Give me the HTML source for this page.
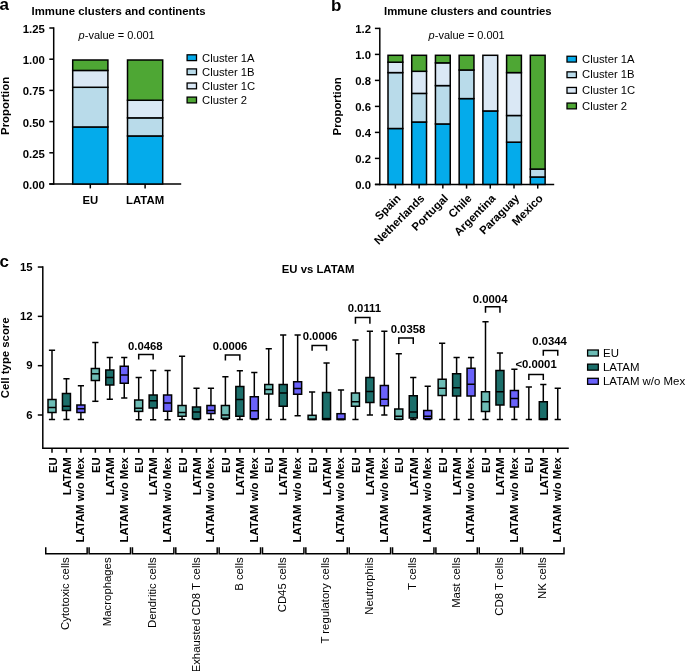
<!DOCTYPE html>
<html><head><meta charset="utf-8"><style>
html,body{margin:0;padding:0;background:#fff;}
svg{display:block;-webkit-font-smoothing:antialiased;will-change:transform;}
text{font-family:"Liberation Sans",sans-serif;fill:#000;}
line,path{stroke:#000;stroke-linecap:butt;}
</style></head><body>
<svg width="685" height="671" viewBox="0 0 685 671">
<text x="-0.6" y="9.5" font-size="17" font-weight="bold" text-anchor="start" >a</text>
<text x="31.6" y="14.8" font-size="11.35" font-weight="bold" text-anchor="start" >Immune clusters and continents</text>
<line x1="53.7" y1="27.3" x2="53.7" y2="184.75" stroke-width="1.5"/>
<line x1="49.3" y1="184.0" x2="53.7" y2="184.0" stroke-width="1.5"/>
<text x="44.8" y="189.0" font-size="11.35" font-weight="bold" text-anchor="end" >0.00</text>
<line x1="49.3" y1="152.8" x2="53.7" y2="152.8" stroke-width="1.5"/>
<text x="44.8" y="157.8" font-size="11.35" font-weight="bold" text-anchor="end" >0.25</text>
<line x1="49.3" y1="121.6" x2="53.7" y2="121.6" stroke-width="1.5"/>
<text x="44.8" y="126.6" font-size="11.35" font-weight="bold" text-anchor="end" >0.50</text>
<line x1="49.3" y1="90.4" x2="53.7" y2="90.4" stroke-width="1.5"/>
<text x="44.8" y="95.4" font-size="11.35" font-weight="bold" text-anchor="end" >0.75</text>
<line x1="49.3" y1="59.2" x2="53.7" y2="59.2" stroke-width="1.5"/>
<text x="44.8" y="64.2" font-size="11.35" font-weight="bold" text-anchor="end" >1.00</text>
<line x1="49.3" y1="28.0" x2="53.7" y2="28.0" stroke-width="1.5"/>
<text x="44.8" y="33.0" font-size="11.35" font-weight="bold" text-anchor="end" >1.25</text>
<line x1="49.3" y1="184.0" x2="181.2" y2="184.0" stroke-width="1.5"/>
<text x="9.0" y="105.9" font-size="11.35" font-weight="bold" text-anchor="middle" transform="rotate(-90 9.0 105.9)">Proportion</text>
<text x="78.6" y="38.6" font-size="11"><tspan font-style="italic">p</tspan>-value = 0.001</text>
<rect x="72.69999999999999" y="126.9664" width="35.2" height="57.03360000000001" fill="#04abeb" stroke="#000" stroke-width="1.5"/>
<rect x="72.69999999999999" y="87.28" width="35.2" height="39.68639999999999" fill="#b9dbea" stroke="#000" stroke-width="1.5"/>
<rect x="72.69999999999999" y="70.432" width="35.2" height="16.848" fill="#dae8f5" stroke="#000" stroke-width="1.5"/>
<rect x="72.69999999999999" y="60.0" width="35.2" height="10.432000000000002" fill="#4ea734" stroke="#000" stroke-width="1.5"/>
<line x1="90.3" y1="184.0" x2="90.3" y2="188.4" stroke-width="1.5"/>
<rect x="127.5" y="135.952" width="35.2" height="48.048" fill="#04abeb" stroke="#000" stroke-width="1.5"/>
<rect x="127.5" y="117.856" width="35.2" height="18.096000000000004" fill="#b9dbea" stroke="#000" stroke-width="1.5"/>
<rect x="127.5" y="100.25919999999999" width="35.2" height="17.5968" fill="#dae8f5" stroke="#000" stroke-width="1.5"/>
<rect x="127.5" y="60.0" width="35.2" height="40.25919999999999" fill="#4ea734" stroke="#000" stroke-width="1.5"/>
<line x1="145.1" y1="184.0" x2="145.1" y2="188.4" stroke-width="1.5"/>
<text x="90.3" y="203.6" font-size="11.35" font-weight="bold" text-anchor="middle" >EU</text>
<text x="145.1" y="203.6" font-size="11.35" font-weight="bold" text-anchor="middle" >LATAM</text>
<rect x="187.1" y="54.800000000000004" width="9.4" height="5.8" fill="#04abeb" stroke="#000" stroke-width="1.3"/>
<text x="202.1" y="61.5" font-size="11.25" text-anchor="start" >Cluster 1A</text>
<rect x="187.1" y="68.89999999999999" width="9.4" height="5.8" fill="#b9dbea" stroke="#000" stroke-width="1.3"/>
<text x="202.1" y="75.6" font-size="11.25" text-anchor="start" >Cluster 1B</text>
<rect x="187.1" y="83.0" width="9.4" height="5.8" fill="#dae8f5" stroke="#000" stroke-width="1.3"/>
<text x="202.1" y="89.7" font-size="11.25" text-anchor="start" >Cluster 1C</text>
<rect x="187.1" y="97.1" width="9.4" height="5.8" fill="#4ea734" stroke="#000" stroke-width="1.3"/>
<text x="202.1" y="103.8" font-size="11.25" text-anchor="start" >Cluster 2</text>
<text x="331.0" y="11.2" font-size="17" font-weight="bold" text-anchor="start" >b</text>
<text x="384.0" y="14.8" font-size="11.35" font-weight="bold" text-anchor="start" >Immune clusters and countries</text>
<line x1="379.8" y1="27.7" x2="379.8" y2="185.15" stroke-width="1.5"/>
<line x1="374.9" y1="184.4" x2="379.8" y2="184.4" stroke-width="1.5"/>
<text x="371.0" y="188.6" font-size="11.35" font-weight="bold" text-anchor="end" >0.0</text>
<line x1="374.9" y1="158.4" x2="379.8" y2="158.4" stroke-width="1.5"/>
<text x="371.0" y="162.6" font-size="11.35" font-weight="bold" text-anchor="end" >0.2</text>
<line x1="374.9" y1="132.4" x2="379.8" y2="132.4" stroke-width="1.5"/>
<text x="371.0" y="136.6" font-size="11.35" font-weight="bold" text-anchor="end" >0.4</text>
<line x1="374.9" y1="106.39999999999999" x2="379.8" y2="106.39999999999999" stroke-width="1.5"/>
<text x="371.0" y="110.6" font-size="11.35" font-weight="bold" text-anchor="end" >0.6</text>
<line x1="374.9" y1="80.4" x2="379.8" y2="80.4" stroke-width="1.5"/>
<text x="371.0" y="84.60000000000001" font-size="11.35" font-weight="bold" text-anchor="end" >0.8</text>
<line x1="374.9" y1="54.400000000000006" x2="379.8" y2="54.400000000000006" stroke-width="1.5"/>
<text x="371.0" y="58.60000000000001" font-size="11.35" font-weight="bold" text-anchor="end" >1.0</text>
<line x1="374.9" y1="28.399999999999977" x2="379.8" y2="28.399999999999977" stroke-width="1.5"/>
<text x="371.0" y="32.59999999999998" font-size="11.35" font-weight="bold" text-anchor="end" >1.2</text>
<line x1="374.9" y1="184.4" x2="554.2" y2="184.4" stroke-width="1.5"/>
<text x="341.3" y="106.4" font-size="11.35" font-weight="bold" text-anchor="middle" transform="rotate(-90 341.3 106.4)">Proportion</text>
<text x="428.6" y="38.6" font-size="11"><tspan font-style="italic">p</tspan>-value = 0.001</text>
<rect x="388.0" y="128.5" width="14.8" height="55.900000000000006" fill="#04abeb" stroke="#000" stroke-width="1.5"/>
<rect x="388.0" y="72.60000000000001" width="14.8" height="55.89999999999999" fill="#b9dbea" stroke="#000" stroke-width="1.5"/>
<rect x="388.0" y="62.20000000000002" width="14.8" height="10.399999999999991" fill="#dae8f5" stroke="#000" stroke-width="1.5"/>
<rect x="388.0" y="55.300000000000004" width="14.8" height="6.900000000000013" fill="#4ea734" stroke="#000" stroke-width="1.5"/>
<line x1="395.4" y1="184.4" x2="395.4" y2="188.6" stroke-width="1.5"/>
<text x="401.4" y="199.0" font-size="11.35" font-weight="bold" text-anchor="end" transform="rotate(-45 401.4 199.0)">Spain</text>
<rect x="411.72" y="122.0" width="14.8" height="62.400000000000006" fill="#04abeb" stroke="#000" stroke-width="1.5"/>
<rect x="411.72" y="93.4" width="14.8" height="28.599999999999994" fill="#b9dbea" stroke="#000" stroke-width="1.5"/>
<rect x="411.72" y="71.30000000000001" width="14.8" height="22.099999999999994" fill="#dae8f5" stroke="#000" stroke-width="1.5"/>
<rect x="411.72" y="55.300000000000004" width="14.8" height="16.000000000000007" fill="#4ea734" stroke="#000" stroke-width="1.5"/>
<line x1="419.12" y1="184.4" x2="419.12" y2="188.6" stroke-width="1.5"/>
<text x="425.12" y="199.0" font-size="11.35" font-weight="bold" text-anchor="end" transform="rotate(-45 425.12 199.0)">Netherlands</text>
<rect x="435.44" y="123.95" width="14.8" height="60.45" fill="#04abeb" stroke="#000" stroke-width="1.5"/>
<rect x="435.44" y="85.60000000000001" width="14.8" height="38.349999999999994" fill="#b9dbea" stroke="#000" stroke-width="1.5"/>
<rect x="435.44" y="62.849999999999994" width="14.8" height="22.750000000000014" fill="#dae8f5" stroke="#000" stroke-width="1.5"/>
<rect x="435.44" y="55.300000000000004" width="14.8" height="7.54999999999999" fill="#4ea734" stroke="#000" stroke-width="1.5"/>
<line x1="442.84" y1="184.4" x2="442.84" y2="188.6" stroke-width="1.5"/>
<text x="448.84" y="199.0" font-size="11.35" font-weight="bold" text-anchor="end" transform="rotate(-45 448.84 199.0)">Portugal</text>
<rect x="459.15999999999997" y="98.60000000000001" width="14.8" height="85.8" fill="#04abeb" stroke="#000" stroke-width="1.5"/>
<rect x="459.15999999999997" y="70.0" width="14.8" height="28.60000000000001" fill="#b9dbea" stroke="#000" stroke-width="1.5"/>
<rect x="459.15999999999997" y="55.300000000000004" width="14.8" height="14.699999999999996" fill="#4ea734" stroke="#000" stroke-width="1.5"/>
<line x1="466.55999999999995" y1="184.4" x2="466.55999999999995" y2="188.6" stroke-width="1.5"/>
<text x="472.55999999999995" y="199.0" font-size="11.35" font-weight="bold" text-anchor="end" transform="rotate(-45 472.55999999999995 199.0)">Chile</text>
<rect x="482.88" y="110.95000000000002" width="14.8" height="73.44999999999999" fill="#04abeb" stroke="#000" stroke-width="1.5"/>
<rect x="482.88" y="55.300000000000004" width="14.8" height="55.65000000000001" fill="#dae8f5" stroke="#000" stroke-width="1.5"/>
<line x1="490.28" y1="184.4" x2="490.28" y2="188.6" stroke-width="1.5"/>
<text x="496.28" y="199.0" font-size="11.35" font-weight="bold" text-anchor="end" transform="rotate(-45 496.28 199.0)">Argentina</text>
<rect x="506.6" y="142.15" width="14.8" height="42.25" fill="#04abeb" stroke="#000" stroke-width="1.5"/>
<rect x="506.6" y="115.5" width="14.8" height="26.650000000000006" fill="#b9dbea" stroke="#000" stroke-width="1.5"/>
<rect x="506.6" y="72.60000000000001" width="14.8" height="42.89999999999999" fill="#dae8f5" stroke="#000" stroke-width="1.5"/>
<rect x="506.6" y="55.300000000000004" width="14.8" height="17.300000000000004" fill="#4ea734" stroke="#000" stroke-width="1.5"/>
<line x1="514.0" y1="184.4" x2="514.0" y2="188.6" stroke-width="1.5"/>
<text x="520.0" y="199.0" font-size="11.35" font-weight="bold" text-anchor="end" transform="rotate(-45 520.0 199.0)">Paraguay</text>
<rect x="530.32" y="176.99" width="14.8" height="7.409999999999997" fill="#04abeb" stroke="#000" stroke-width="1.5"/>
<rect x="530.32" y="169.06" width="14.8" height="7.930000000000007" fill="#b9dbea" stroke="#000" stroke-width="1.5"/>
<rect x="530.32" y="55.300000000000004" width="14.8" height="113.75999999999999" fill="#4ea734" stroke="#000" stroke-width="1.5"/>
<line x1="537.72" y1="184.4" x2="537.72" y2="188.6" stroke-width="1.5"/>
<text x="543.72" y="199.0" font-size="11.35" font-weight="bold" text-anchor="end" transform="rotate(-45 543.72 199.0)">Mexico</text>
<rect x="567.0" y="56.25" width="9.4" height="5.8" fill="#04abeb" stroke="#000" stroke-width="1.3"/>
<text x="582.1" y="62.75" font-size="11.25" text-anchor="start" >Cluster 1A</text>
<rect x="567.0" y="71.85" width="9.4" height="5.8" fill="#b9dbea" stroke="#000" stroke-width="1.3"/>
<text x="582.1" y="78.35" font-size="11.25" text-anchor="start" >Cluster 1B</text>
<rect x="567.0" y="87.44999999999999" width="9.4" height="5.8" fill="#dae8f5" stroke="#000" stroke-width="1.3"/>
<text x="582.1" y="93.94999999999999" font-size="11.25" text-anchor="start" >Cluster 1C</text>
<rect x="567.0" y="103.04999999999998" width="9.4" height="5.8" fill="#4ea734" stroke="#000" stroke-width="1.3"/>
<text x="582.1" y="109.54999999999998" font-size="11.25" text-anchor="start" >Cluster 2</text>
<text x="-0.5" y="266.8" font-size="17" font-weight="bold" text-anchor="start" >c</text>
<text x="318.1" y="273.3" font-size="11.35" font-weight="bold" text-anchor="middle" >EU vs LATAM</text>
<line x1="42.8" y1="266.28999999999996" x2="42.8" y2="448.95" stroke-width="1.5"/>
<line x1="37.8" y1="415.0" x2="42.8" y2="415.0" stroke-width="1.5"/>
<text x="32.5" y="418.75" font-size="11.35" font-weight="bold" text-anchor="end" >6</text>
<line x1="37.8" y1="365.68" x2="42.8" y2="365.68" stroke-width="1.5"/>
<text x="32.5" y="369.43" font-size="11.35" font-weight="bold" text-anchor="end" >9</text>
<line x1="37.8" y1="316.36" x2="42.8" y2="316.36" stroke-width="1.5"/>
<text x="32.5" y="320.11" font-size="11.35" font-weight="bold" text-anchor="end" >12</text>
<line x1="37.8" y1="267.03999999999996" x2="42.8" y2="267.03999999999996" stroke-width="1.5"/>
<text x="32.5" y="270.78999999999996" font-size="11.35" font-weight="bold" text-anchor="end" >15</text>
<line x1="42.8" y1="448.2" x2="568.8" y2="448.2" stroke-width="1.5"/>
<text x="8.8" y="357.8" font-size="11.35" font-weight="bold" text-anchor="middle" transform="rotate(-90 8.8 357.8)">Cell type score</text>
<line x1="52.0" y1="350.25" x2="52.0" y2="419.5" stroke-width="1.5"/>
<line x1="48.9" y1="350.25" x2="55.1" y2="350.25" stroke-width="1.5"/>
<line x1="48.9" y1="419.5" x2="55.1" y2="419.5" stroke-width="1.5"/>
<rect x="48.0" y="399.5" width="8.0" height="13.0" fill="#6cbcb5" stroke="#000" stroke-width="1.5"/>
<line x1="48.0" y1="407.5" x2="56.0" y2="407.5" stroke-width="1.5"/>
<line x1="52.0" y1="448.2" x2="52.0" y2="452.8" stroke-width="1.5"/>
<text x="56.6" y="457.2" font-size="11.35" font-weight="bold" text-anchor="end" transform="rotate(-90 56.6 457.2)">EU</text>
<line x1="66.45" y1="378.75" x2="66.45" y2="419.5" stroke-width="1.5"/>
<line x1="63.35" y1="378.75" x2="69.55" y2="378.75" stroke-width="1.5"/>
<line x1="63.35" y1="419.5" x2="69.55" y2="419.5" stroke-width="1.5"/>
<rect x="62.45" y="393.5" width="8.0" height="17.0" fill="#1b6e6a" stroke="#000" stroke-width="1.5"/>
<line x1="62.45" y1="406.25" x2="70.45" y2="406.25" stroke-width="1.5"/>
<line x1="66.45" y1="448.2" x2="66.45" y2="452.8" stroke-width="1.5"/>
<text x="70.75" y="457.2" font-size="11.35" font-weight="bold" text-anchor="end" transform="rotate(-90 70.75 457.2)">LATAM</text>
<line x1="80.9" y1="385.75" x2="80.9" y2="419.5" stroke-width="1.5"/>
<line x1="77.80000000000001" y1="385.75" x2="84.0" y2="385.75" stroke-width="1.5"/>
<line x1="77.80000000000001" y1="419.5" x2="84.0" y2="419.5" stroke-width="1.5"/>
<rect x="76.9" y="405" width="8.0" height="7.5" fill="#6a62fa" stroke="#000" stroke-width="1.5"/>
<line x1="76.9" y1="408.75" x2="84.9" y2="408.75" stroke-width="1.5"/>
<line x1="80.9" y1="448.2" x2="80.9" y2="452.8" stroke-width="1.5"/>
<text x="84.30000000000001" y="457.2" font-size="11.35" font-weight="bold" text-anchor="end" transform="rotate(-90 84.30000000000001 457.2)">LATAM w/o Mex</text>
<path d="M45.75 547.2 V553.8 H87.15 V547.2" fill="none" stroke-width="1.5"/>
<text x="69.2" y="557.4" font-size="11.35" text-anchor="end" transform="rotate(-90 69.2 557.4)">Cytotoxic cells</text>
<line x1="95.35" y1="342.5" x2="95.35" y2="401.3" stroke-width="1.5"/>
<line x1="92.25" y1="342.5" x2="98.44999999999999" y2="342.5" stroke-width="1.5"/>
<line x1="92.25" y1="401.3" x2="98.44999999999999" y2="401.3" stroke-width="1.5"/>
<rect x="91.35" y="368.5" width="8.0" height="12.0" fill="#6cbcb5" stroke="#000" stroke-width="1.5"/>
<line x1="91.35" y1="373.8" x2="99.35" y2="373.8" stroke-width="1.5"/>
<line x1="95.35" y1="448.2" x2="95.35" y2="452.8" stroke-width="1.5"/>
<text x="99.94999999999999" y="457.2" font-size="11.35" font-weight="bold" text-anchor="end" transform="rotate(-90 99.94999999999999 457.2)">EU</text>
<line x1="109.8" y1="357.5" x2="109.8" y2="399.25" stroke-width="1.5"/>
<line x1="106.7" y1="357.5" x2="112.89999999999999" y2="357.5" stroke-width="1.5"/>
<line x1="106.7" y1="399.25" x2="112.89999999999999" y2="399.25" stroke-width="1.5"/>
<rect x="105.8" y="370" width="8.0" height="15" fill="#1b6e6a" stroke="#000" stroke-width="1.5"/>
<line x1="105.8" y1="377.5" x2="113.8" y2="377.5" stroke-width="1.5"/>
<line x1="109.8" y1="448.2" x2="109.8" y2="452.8" stroke-width="1.5"/>
<text x="114.1" y="457.2" font-size="11.35" font-weight="bold" text-anchor="end" transform="rotate(-90 114.1 457.2)">LATAM</text>
<line x1="124.25" y1="357.5" x2="124.25" y2="398" stroke-width="1.5"/>
<line x1="121.15" y1="357.5" x2="127.35" y2="357.5" stroke-width="1.5"/>
<line x1="121.15" y1="398" x2="127.35" y2="398" stroke-width="1.5"/>
<rect x="120.25" y="366.25" width="8.0" height="17.0" fill="#6a62fa" stroke="#000" stroke-width="1.5"/>
<line x1="120.25" y1="375" x2="128.25" y2="375" stroke-width="1.5"/>
<line x1="124.25" y1="448.2" x2="124.25" y2="452.8" stroke-width="1.5"/>
<text x="127.65" y="457.2" font-size="11.35" font-weight="bold" text-anchor="end" transform="rotate(-90 127.65 457.2)">LATAM w/o Mex</text>
<path d="M89.1 547.2 V553.8 H130.5 V547.2" fill="none" stroke-width="1.5"/>
<text x="110.55" y="557.4" font-size="11.35" text-anchor="end" transform="rotate(-90 110.55 557.4)">Macrophages</text>
<line x1="138.7" y1="377.5" x2="138.7" y2="419.75" stroke-width="1.5"/>
<line x1="135.6" y1="377.5" x2="141.79999999999998" y2="377.5" stroke-width="1.5"/>
<line x1="135.6" y1="419.75" x2="141.79999999999998" y2="419.75" stroke-width="1.5"/>
<rect x="134.7" y="400" width="8.0" height="11.399999999999977" fill="#6cbcb5" stroke="#000" stroke-width="1.5"/>
<line x1="134.7" y1="408.2" x2="142.7" y2="408.2" stroke-width="1.5"/>
<line x1="138.7" y1="448.2" x2="138.7" y2="452.8" stroke-width="1.5"/>
<text x="143.29999999999998" y="457.2" font-size="11.35" font-weight="bold" text-anchor="end" transform="rotate(-90 143.29999999999998 457.2)">EU</text>
<line x1="153.14999999999998" y1="370.5" x2="153.14999999999998" y2="419.75" stroke-width="1.5"/>
<line x1="150.04999999999998" y1="370.5" x2="156.24999999999997" y2="370.5" stroke-width="1.5"/>
<line x1="150.04999999999998" y1="419.75" x2="156.24999999999997" y2="419.75" stroke-width="1.5"/>
<rect x="149.14999999999998" y="395" width="8.0" height="13" fill="#1b6e6a" stroke="#000" stroke-width="1.5"/>
<line x1="149.14999999999998" y1="400.75" x2="157.14999999999998" y2="400.75" stroke-width="1.5"/>
<line x1="153.14999999999998" y1="448.2" x2="153.14999999999998" y2="452.8" stroke-width="1.5"/>
<text x="157.45" y="457.2" font-size="11.35" font-weight="bold" text-anchor="end" transform="rotate(-90 157.45 457.2)">LATAM</text>
<line x1="167.6" y1="370.5" x2="167.6" y2="419.75" stroke-width="1.5"/>
<line x1="164.5" y1="370.5" x2="170.7" y2="370.5" stroke-width="1.5"/>
<line x1="164.5" y1="419.75" x2="170.7" y2="419.75" stroke-width="1.5"/>
<rect x="163.6" y="395" width="8.0" height="16.25" fill="#6a62fa" stroke="#000" stroke-width="1.5"/>
<line x1="163.6" y1="403" x2="171.6" y2="403" stroke-width="1.5"/>
<line x1="167.6" y1="448.2" x2="167.6" y2="452.8" stroke-width="1.5"/>
<text x="171.0" y="457.2" font-size="11.35" font-weight="bold" text-anchor="end" transform="rotate(-90 171.0 457.2)">LATAM w/o Mex</text>
<path d="M132.45 547.2 V553.8 H173.85 V547.2" fill="none" stroke-width="1.5"/>
<text x="156.14999999999998" y="557.4" font-size="11.35" text-anchor="end" transform="rotate(-90 156.14999999999998 557.4)">Dendritic cells</text>
<line x1="182.04999999999998" y1="356.25" x2="182.04999999999998" y2="419.5" stroke-width="1.5"/>
<line x1="178.95" y1="356.25" x2="185.14999999999998" y2="356.25" stroke-width="1.5"/>
<line x1="178.95" y1="419.5" x2="185.14999999999998" y2="419.5" stroke-width="1.5"/>
<rect x="178.04999999999998" y="405.5" width="8.0" height="10.75" fill="#6cbcb5" stroke="#000" stroke-width="1.5"/>
<line x1="178.04999999999998" y1="412.5" x2="186.04999999999998" y2="412.5" stroke-width="1.5"/>
<line x1="182.04999999999998" y1="448.2" x2="182.04999999999998" y2="452.8" stroke-width="1.5"/>
<text x="186.64999999999998" y="457.2" font-size="11.35" font-weight="bold" text-anchor="end" transform="rotate(-90 186.64999999999998 457.2)">EU</text>
<line x1="196.5" y1="388.25" x2="196.5" y2="419.5" stroke-width="1.5"/>
<line x1="193.4" y1="388.25" x2="199.6" y2="388.25" stroke-width="1.5"/>
<line x1="193.4" y1="419.5" x2="199.6" y2="419.5" stroke-width="1.5"/>
<rect x="192.5" y="407" width="8.0" height="11.75" fill="#1b6e6a" stroke="#000" stroke-width="1.5"/>
<line x1="192.5" y1="412" x2="200.5" y2="412" stroke-width="1.5"/>
<line x1="196.5" y1="448.2" x2="196.5" y2="452.8" stroke-width="1.5"/>
<text x="200.8" y="457.2" font-size="11.35" font-weight="bold" text-anchor="end" transform="rotate(-90 200.8 457.2)">LATAM</text>
<line x1="210.95" y1="388.25" x2="210.95" y2="419.5" stroke-width="1.5"/>
<line x1="207.85" y1="388.25" x2="214.04999999999998" y2="388.25" stroke-width="1.5"/>
<line x1="207.85" y1="419.5" x2="214.04999999999998" y2="419.5" stroke-width="1.5"/>
<rect x="206.95" y="405.5" width="8.0" height="8.0" fill="#6a62fa" stroke="#000" stroke-width="1.5"/>
<line x1="206.95" y1="410.5" x2="214.95" y2="410.5" stroke-width="1.5"/>
<line x1="210.95" y1="448.2" x2="210.95" y2="452.8" stroke-width="1.5"/>
<text x="214.35" y="457.2" font-size="11.35" font-weight="bold" text-anchor="end" transform="rotate(-90 214.35 457.2)">LATAM w/o Mex</text>
<path d="M175.79999999999998 547.2 V553.8 H217.2 V547.2" fill="none" stroke-width="1.5"/>
<text x="200.3" y="557.4" font-size="11.35" text-anchor="end" transform="rotate(-90 200.3 557.4)">Exhausted CD8 T cells</text>
<line x1="225.39999999999998" y1="376.75" x2="225.39999999999998" y2="419.5" stroke-width="1.5"/>
<line x1="222.29999999999998" y1="376.75" x2="228.49999999999997" y2="376.75" stroke-width="1.5"/>
<line x1="222.29999999999998" y1="419.5" x2="228.49999999999997" y2="419.5" stroke-width="1.5"/>
<rect x="221.39999999999998" y="405.5" width="8.0" height="12.75" fill="#6cbcb5" stroke="#000" stroke-width="1.5"/>
<line x1="221.39999999999998" y1="415.0" x2="229.39999999999998" y2="415.0" stroke-width="1.5"/>
<line x1="225.39999999999998" y1="448.2" x2="225.39999999999998" y2="452.8" stroke-width="1.5"/>
<text x="229.99999999999997" y="457.2" font-size="11.35" font-weight="bold" text-anchor="end" transform="rotate(-90 229.99999999999997 457.2)">EU</text>
<line x1="239.85" y1="370.75" x2="239.85" y2="419.5" stroke-width="1.5"/>
<line x1="236.75" y1="370.75" x2="242.95" y2="370.75" stroke-width="1.5"/>
<line x1="236.75" y1="419.5" x2="242.95" y2="419.5" stroke-width="1.5"/>
<rect x="235.85" y="386.5" width="8.0" height="29.75" fill="#1b6e6a" stroke="#000" stroke-width="1.5"/>
<line x1="235.85" y1="399.5" x2="243.85" y2="399.5" stroke-width="1.5"/>
<line x1="239.85" y1="448.2" x2="239.85" y2="452.8" stroke-width="1.5"/>
<text x="244.15" y="457.2" font-size="11.35" font-weight="bold" text-anchor="end" transform="rotate(-90 244.15 457.2)">LATAM</text>
<line x1="254.29999999999998" y1="372.5" x2="254.29999999999998" y2="419.5" stroke-width="1.5"/>
<line x1="251.2" y1="372.5" x2="257.4" y2="372.5" stroke-width="1.5"/>
<line x1="251.2" y1="419.5" x2="257.4" y2="419.5" stroke-width="1.5"/>
<rect x="250.29999999999998" y="396.75" width="8.0" height="22.0" fill="#6a62fa" stroke="#000" stroke-width="1.5"/>
<line x1="250.29999999999998" y1="410.75" x2="258.29999999999995" y2="410.75" stroke-width="1.5"/>
<line x1="254.29999999999998" y1="448.2" x2="254.29999999999998" y2="452.8" stroke-width="1.5"/>
<text x="257.7" y="457.2" font-size="11.35" font-weight="bold" text-anchor="end" transform="rotate(-90 257.7 457.2)">LATAM w/o Mex</text>
<path d="M219.14999999999998 547.2 V553.8 H260.54999999999995 V547.2" fill="none" stroke-width="1.5"/>
<text x="242.85" y="557.4" font-size="11.35" text-anchor="end" transform="rotate(-90 242.85 557.4)">B cells</text>
<line x1="268.75" y1="348.75" x2="268.75" y2="419.5" stroke-width="1.5"/>
<line x1="265.65" y1="348.75" x2="271.85" y2="348.75" stroke-width="1.5"/>
<line x1="265.65" y1="419.5" x2="271.85" y2="419.5" stroke-width="1.5"/>
<rect x="264.75" y="384.5" width="8.0" height="9.5" fill="#6cbcb5" stroke="#000" stroke-width="1.5"/>
<line x1="264.75" y1="389.5" x2="272.75" y2="389.5" stroke-width="1.5"/>
<line x1="268.75" y1="448.2" x2="268.75" y2="452.8" stroke-width="1.5"/>
<text x="273.35" y="457.2" font-size="11.35" font-weight="bold" text-anchor="end" transform="rotate(-90 273.35 457.2)">EU</text>
<line x1="283.2" y1="335" x2="283.2" y2="419.5" stroke-width="1.5"/>
<line x1="280.09999999999997" y1="335" x2="286.3" y2="335" stroke-width="1.5"/>
<line x1="280.09999999999997" y1="419.5" x2="286.3" y2="419.5" stroke-width="1.5"/>
<rect x="279.2" y="384.5" width="8.0" height="21.75" fill="#1b6e6a" stroke="#000" stroke-width="1.5"/>
<line x1="279.2" y1="393" x2="287.2" y2="393" stroke-width="1.5"/>
<line x1="283.2" y1="448.2" x2="283.2" y2="452.8" stroke-width="1.5"/>
<text x="287.5" y="457.2" font-size="11.35" font-weight="bold" text-anchor="end" transform="rotate(-90 287.5 457.2)">LATAM</text>
<line x1="297.65" y1="335" x2="297.65" y2="415.75" stroke-width="1.5"/>
<line x1="294.54999999999995" y1="335" x2="300.75" y2="335" stroke-width="1.5"/>
<line x1="294.54999999999995" y1="415.75" x2="300.75" y2="415.75" stroke-width="1.5"/>
<rect x="293.65" y="381.75" width="8.0" height="12.5" fill="#6a62fa" stroke="#000" stroke-width="1.5"/>
<line x1="293.65" y1="388.5" x2="301.65" y2="388.5" stroke-width="1.5"/>
<line x1="297.65" y1="448.2" x2="297.65" y2="452.8" stroke-width="1.5"/>
<text x="301.04999999999995" y="457.2" font-size="11.35" font-weight="bold" text-anchor="end" transform="rotate(-90 301.04999999999995 457.2)">LATAM w/o Mex</text>
<path d="M262.5 547.2 V553.8 H303.9 V547.2" fill="none" stroke-width="1.5"/>
<text x="286.2" y="557.4" font-size="11.35" text-anchor="end" transform="rotate(-90 286.2 557.4)">CD45 cells</text>
<line x1="312.09999999999997" y1="392" x2="312.09999999999997" y2="419.5" stroke-width="1.5"/>
<line x1="308.99999999999994" y1="392" x2="315.2" y2="392" stroke-width="1.5"/>
<line x1="308.99999999999994" y1="419.5" x2="315.2" y2="419.5" stroke-width="1.5"/>
<rect x="308.09999999999997" y="415.3" width="8.0" height="4.199999999999989" fill="#6cbcb5" stroke="#000" stroke-width="1.5"/>
<line x1="308.09999999999997" y1="419.2" x2="316.09999999999997" y2="419.2" stroke-width="1.5"/>
<line x1="312.09999999999997" y1="448.2" x2="312.09999999999997" y2="452.8" stroke-width="1.5"/>
<text x="316.7" y="457.2" font-size="11.35" font-weight="bold" text-anchor="end" transform="rotate(-90 316.7 457.2)">EU</text>
<line x1="326.55" y1="363" x2="326.55" y2="419.5" stroke-width="1.5"/>
<line x1="323.45" y1="363" x2="329.65000000000003" y2="363" stroke-width="1.5"/>
<line x1="323.45" y1="419.5" x2="329.65000000000003" y2="419.5" stroke-width="1.5"/>
<rect x="322.55" y="392.5" width="8.0" height="27.0" fill="#1b6e6a" stroke="#000" stroke-width="1.5"/>
<line x1="322.55" y1="418.6" x2="330.55" y2="418.6" stroke-width="1.5"/>
<line x1="326.55" y1="448.2" x2="326.55" y2="452.8" stroke-width="1.5"/>
<text x="330.85" y="457.2" font-size="11.35" font-weight="bold" text-anchor="end" transform="rotate(-90 330.85 457.2)">LATAM</text>
<line x1="341.0" y1="390" x2="341.0" y2="419.5" stroke-width="1.5"/>
<line x1="337.9" y1="390" x2="344.1" y2="390" stroke-width="1.5"/>
<line x1="337.9" y1="419.5" x2="344.1" y2="419.5" stroke-width="1.5"/>
<rect x="337.0" y="413.7" width="8.0" height="5.800000000000011" fill="#6a62fa" stroke="#000" stroke-width="1.5"/>
<line x1="337.0" y1="419.1" x2="345.0" y2="419.1" stroke-width="1.5"/>
<line x1="341.0" y1="448.2" x2="341.0" y2="452.8" stroke-width="1.5"/>
<text x="344.4" y="457.2" font-size="11.35" font-weight="bold" text-anchor="end" transform="rotate(-90 344.4 457.2)">LATAM w/o Mex</text>
<path d="M305.84999999999997 547.2 V553.8 H347.25 V547.2" fill="none" stroke-width="1.5"/>
<text x="329.3" y="557.4" font-size="11.35" text-anchor="end" transform="rotate(-90 329.3 557.4)">T regulatory cells</text>
<line x1="355.45" y1="340" x2="355.45" y2="419.5" stroke-width="1.5"/>
<line x1="352.34999999999997" y1="340" x2="358.55" y2="340" stroke-width="1.5"/>
<line x1="352.34999999999997" y1="419.5" x2="358.55" y2="419.5" stroke-width="1.5"/>
<rect x="351.45" y="393" width="8.0" height="13.25" fill="#6cbcb5" stroke="#000" stroke-width="1.5"/>
<line x1="351.45" y1="401.75" x2="359.45" y2="401.75" stroke-width="1.5"/>
<line x1="355.45" y1="448.2" x2="355.45" y2="452.8" stroke-width="1.5"/>
<text x="360.05" y="457.2" font-size="11.35" font-weight="bold" text-anchor="end" transform="rotate(-90 360.05 457.2)">EU</text>
<line x1="369.9" y1="331.25" x2="369.9" y2="415" stroke-width="1.5"/>
<line x1="366.79999999999995" y1="331.25" x2="373.0" y2="331.25" stroke-width="1.5"/>
<line x1="366.79999999999995" y1="415" x2="373.0" y2="415" stroke-width="1.5"/>
<rect x="365.9" y="377.5" width="8.0" height="25.0" fill="#1b6e6a" stroke="#000" stroke-width="1.5"/>
<line x1="365.9" y1="391.5" x2="373.9" y2="391.5" stroke-width="1.5"/>
<line x1="369.9" y1="448.2" x2="369.9" y2="452.8" stroke-width="1.5"/>
<text x="374.2" y="457.2" font-size="11.35" font-weight="bold" text-anchor="end" transform="rotate(-90 374.2 457.2)">LATAM</text>
<line x1="384.34999999999997" y1="331.25" x2="384.34999999999997" y2="415" stroke-width="1.5"/>
<line x1="381.24999999999994" y1="331.25" x2="387.45" y2="331.25" stroke-width="1.5"/>
<line x1="381.24999999999994" y1="415" x2="387.45" y2="415" stroke-width="1.5"/>
<rect x="380.34999999999997" y="385.5" width="8.0" height="20.25" fill="#6a62fa" stroke="#000" stroke-width="1.5"/>
<line x1="380.34999999999997" y1="399.25" x2="388.34999999999997" y2="399.25" stroke-width="1.5"/>
<line x1="384.34999999999997" y1="448.2" x2="384.34999999999997" y2="452.8" stroke-width="1.5"/>
<text x="387.74999999999994" y="457.2" font-size="11.35" font-weight="bold" text-anchor="end" transform="rotate(-90 387.74999999999994 457.2)">LATAM w/o Mex</text>
<path d="M349.2 547.2 V553.8 H390.59999999999997 V547.2" fill="none" stroke-width="1.5"/>
<text x="372.65" y="557.4" font-size="11.35" text-anchor="end" transform="rotate(-90 372.65 557.4)">Neutrophils</text>
<line x1="398.79999999999995" y1="353.75" x2="398.79999999999995" y2="419.5" stroke-width="1.5"/>
<line x1="395.69999999999993" y1="353.75" x2="401.9" y2="353.75" stroke-width="1.5"/>
<line x1="395.69999999999993" y1="419.5" x2="401.9" y2="419.5" stroke-width="1.5"/>
<rect x="394.79999999999995" y="409" width="8.0" height="10.25" fill="#6cbcb5" stroke="#000" stroke-width="1.5"/>
<line x1="394.79999999999995" y1="416.25" x2="402.79999999999995" y2="416.25" stroke-width="1.5"/>
<line x1="398.79999999999995" y1="448.2" x2="398.79999999999995" y2="452.8" stroke-width="1.5"/>
<text x="403.4" y="457.2" font-size="11.35" font-weight="bold" text-anchor="end" transform="rotate(-90 403.4 457.2)">EU</text>
<line x1="413.25" y1="377.5" x2="413.25" y2="419.5" stroke-width="1.5"/>
<line x1="410.15" y1="377.5" x2="416.35" y2="377.5" stroke-width="1.5"/>
<line x1="410.15" y1="419.5" x2="416.35" y2="419.5" stroke-width="1.5"/>
<rect x="409.25" y="395.75" width="8.0" height="22.25" fill="#1b6e6a" stroke="#000" stroke-width="1.5"/>
<line x1="409.25" y1="412" x2="417.25" y2="412" stroke-width="1.5"/>
<line x1="413.25" y1="448.2" x2="413.25" y2="452.8" stroke-width="1.5"/>
<text x="417.55" y="457.2" font-size="11.35" font-weight="bold" text-anchor="end" transform="rotate(-90 417.55 457.2)">LATAM</text>
<line x1="427.7" y1="386.25" x2="427.7" y2="419.5" stroke-width="1.5"/>
<line x1="424.59999999999997" y1="386.25" x2="430.8" y2="386.25" stroke-width="1.5"/>
<line x1="424.59999999999997" y1="419.5" x2="430.8" y2="419.5" stroke-width="1.5"/>
<rect x="423.7" y="410.5" width="8.0" height="8.25" fill="#6a62fa" stroke="#000" stroke-width="1.5"/>
<line x1="423.7" y1="416.25" x2="431.7" y2="416.25" stroke-width="1.5"/>
<line x1="427.7" y1="448.2" x2="427.7" y2="452.8" stroke-width="1.5"/>
<text x="431.09999999999997" y="457.2" font-size="11.35" font-weight="bold" text-anchor="end" transform="rotate(-90 431.09999999999997 457.2)">LATAM w/o Mex</text>
<path d="M392.54999999999995 547.2 V553.8 H433.95 V547.2" fill="none" stroke-width="1.5"/>
<text x="416.25" y="557.4" font-size="11.35" text-anchor="end" transform="rotate(-90 416.25 557.4)">T cells</text>
<line x1="442.15" y1="343.25" x2="442.15" y2="419.5" stroke-width="1.5"/>
<line x1="439.04999999999995" y1="343.25" x2="445.25" y2="343.25" stroke-width="1.5"/>
<line x1="439.04999999999995" y1="419.5" x2="445.25" y2="419.5" stroke-width="1.5"/>
<rect x="438.15" y="379.25" width="8.0" height="16.25" fill="#6cbcb5" stroke="#000" stroke-width="1.5"/>
<line x1="438.15" y1="388.25" x2="446.15" y2="388.25" stroke-width="1.5"/>
<line x1="442.15" y1="448.2" x2="442.15" y2="452.8" stroke-width="1.5"/>
<text x="446.75" y="457.2" font-size="11.35" font-weight="bold" text-anchor="end" transform="rotate(-90 446.75 457.2)">EU</text>
<line x1="456.59999999999997" y1="357.5" x2="456.59999999999997" y2="419.5" stroke-width="1.5"/>
<line x1="453.49999999999994" y1="357.5" x2="459.7" y2="357.5" stroke-width="1.5"/>
<line x1="453.49999999999994" y1="419.5" x2="459.7" y2="419.5" stroke-width="1.5"/>
<rect x="452.59999999999997" y="373.75" width="8.0" height="22.25" fill="#1b6e6a" stroke="#000" stroke-width="1.5"/>
<line x1="452.59999999999997" y1="387.75" x2="460.59999999999997" y2="387.75" stroke-width="1.5"/>
<line x1="456.59999999999997" y1="448.2" x2="456.59999999999997" y2="452.8" stroke-width="1.5"/>
<text x="460.9" y="457.2" font-size="11.35" font-weight="bold" text-anchor="end" transform="rotate(-90 460.9 457.2)">LATAM</text>
<line x1="471.04999999999995" y1="357.5" x2="471.04999999999995" y2="419.5" stroke-width="1.5"/>
<line x1="467.94999999999993" y1="357.5" x2="474.15" y2="357.5" stroke-width="1.5"/>
<line x1="467.94999999999993" y1="419.5" x2="474.15" y2="419.5" stroke-width="1.5"/>
<rect x="467.04999999999995" y="368.25" width="8.0" height="27.75" fill="#6a62fa" stroke="#000" stroke-width="1.5"/>
<line x1="467.04999999999995" y1="384.25" x2="475.04999999999995" y2="384.25" stroke-width="1.5"/>
<line x1="471.04999999999995" y1="448.2" x2="471.04999999999995" y2="452.8" stroke-width="1.5"/>
<text x="474.44999999999993" y="457.2" font-size="11.35" font-weight="bold" text-anchor="end" transform="rotate(-90 474.44999999999993 457.2)">LATAM w/o Mex</text>
<path d="M435.9 547.2 V553.8 H477.29999999999995 V547.2" fill="none" stroke-width="1.5"/>
<text x="459.59999999999997" y="557.4" font-size="11.35" text-anchor="end" transform="rotate(-90 459.59999999999997 557.4)">Mast cells</text>
<line x1="485.5" y1="321.75" x2="485.5" y2="419.5" stroke-width="1.5"/>
<line x1="482.4" y1="321.75" x2="488.6" y2="321.75" stroke-width="1.5"/>
<line x1="482.4" y1="419.5" x2="488.6" y2="419.5" stroke-width="1.5"/>
<rect x="481.5" y="391.75" width="8.0" height="19.75" fill="#6cbcb5" stroke="#000" stroke-width="1.5"/>
<line x1="481.5" y1="401.75" x2="489.5" y2="401.75" stroke-width="1.5"/>
<line x1="485.5" y1="448.2" x2="485.5" y2="452.8" stroke-width="1.5"/>
<text x="490.1" y="457.2" font-size="11.35" font-weight="bold" text-anchor="end" transform="rotate(-90 490.1 457.2)">EU</text>
<line x1="499.95" y1="353" x2="499.95" y2="419.5" stroke-width="1.5"/>
<line x1="496.84999999999997" y1="353" x2="503.05" y2="353" stroke-width="1.5"/>
<line x1="496.84999999999997" y1="419.5" x2="503.05" y2="419.5" stroke-width="1.5"/>
<rect x="495.95" y="370.5" width="8.0" height="34.5" fill="#1b6e6a" stroke="#000" stroke-width="1.5"/>
<line x1="495.95" y1="391.75" x2="503.95" y2="391.75" stroke-width="1.5"/>
<line x1="499.95" y1="448.2" x2="499.95" y2="452.8" stroke-width="1.5"/>
<text x="504.25" y="457.2" font-size="11.35" font-weight="bold" text-anchor="end" transform="rotate(-90 504.25 457.2)">LATAM</text>
<line x1="514.4" y1="369.25" x2="514.4" y2="419.5" stroke-width="1.5"/>
<line x1="511.29999999999995" y1="369.25" x2="517.5" y2="369.25" stroke-width="1.5"/>
<line x1="511.29999999999995" y1="419.5" x2="517.5" y2="419.5" stroke-width="1.5"/>
<rect x="510.4" y="390.5" width="8.0" height="16.5" fill="#6a62fa" stroke="#000" stroke-width="1.5"/>
<line x1="510.4" y1="398.5" x2="518.4" y2="398.5" stroke-width="1.5"/>
<line x1="514.4" y1="448.2" x2="514.4" y2="452.8" stroke-width="1.5"/>
<text x="517.8" y="457.2" font-size="11.35" font-weight="bold" text-anchor="end" transform="rotate(-90 517.8 457.2)">LATAM w/o Mex</text>
<path d="M479.25 547.2 V553.8 H520.65 V547.2" fill="none" stroke-width="1.5"/>
<text x="502.95" y="557.4" font-size="11.35" text-anchor="end" transform="rotate(-90 502.95 557.4)">CD8 T cells</text>
<line x1="528.8499999999999" y1="387" x2="528.8499999999999" y2="419.5" stroke-width="1.5"/>
<line x1="525.7499999999999" y1="387" x2="531.9499999999999" y2="387" stroke-width="1.5"/>
<line x1="525.7499999999999" y1="419.5" x2="531.9499999999999" y2="419.5" stroke-width="1.5"/>
<line x1="528.8499999999999" y1="448.2" x2="528.8499999999999" y2="452.8" stroke-width="1.5"/>
<text x="533.4499999999999" y="457.2" font-size="11.35" font-weight="bold" text-anchor="end" transform="rotate(-90 533.4499999999999 457.2)">EU</text>
<line x1="543.3" y1="384.5" x2="543.3" y2="419.5" stroke-width="1.5"/>
<line x1="540.1999999999999" y1="384.5" x2="546.4" y2="384.5" stroke-width="1.5"/>
<line x1="540.1999999999999" y1="419.5" x2="546.4" y2="419.5" stroke-width="1.5"/>
<rect x="539.3" y="401.75" width="8.0" height="17.75" fill="#1b6e6a" stroke="#000" stroke-width="1.5"/>
<line x1="539.3" y1="418.75" x2="547.3" y2="418.75" stroke-width="1.5"/>
<line x1="543.3" y1="448.2" x2="543.3" y2="452.8" stroke-width="1.5"/>
<text x="547.5999999999999" y="457.2" font-size="11.35" font-weight="bold" text-anchor="end" transform="rotate(-90 547.5999999999999 457.2)">LATAM</text>
<line x1="557.75" y1="388.25" x2="557.75" y2="419.5" stroke-width="1.5"/>
<line x1="554.65" y1="388.25" x2="560.85" y2="388.25" stroke-width="1.5"/>
<line x1="554.65" y1="419.5" x2="560.85" y2="419.5" stroke-width="1.5"/>
<line x1="557.75" y1="448.2" x2="557.75" y2="452.8" stroke-width="1.5"/>
<text x="561.15" y="457.2" font-size="11.35" font-weight="bold" text-anchor="end" transform="rotate(-90 561.15 457.2)">LATAM w/o Mex</text>
<path d="M522.5999999999999 547.2 V553.8 H564.0 V547.2" fill="none" stroke-width="1.5"/>
<text x="546.3" y="557.4" font-size="11.35" text-anchor="end" transform="rotate(-90 546.3 557.4)">NK cells</text>
<path d="M138.7 359.5 V354.5 H153.14999999999998 V359.5" fill="none" stroke-width="1.5"/>
<text x="145.32" y="349.5" font-size="11.35" font-weight="bold" text-anchor="middle" >0.0468</text>
<path d="M225.39999999999998 360.5 V355 H239.85 V360.5" fill="none" stroke-width="1.5"/>
<text x="230.03" y="349.5" font-size="11.35" font-weight="bold" text-anchor="middle" >0.0006</text>
<path d="M312.09999999999997 350.75 V345.5 H326.55 V350.75" fill="none" stroke-width="1.5"/>
<text x="320.02" y="340.45" font-size="11.35" font-weight="bold" text-anchor="middle" >0.0006</text>
<path d="M355.45 323.8 V317.5 H369.9 V323.8" fill="none" stroke-width="1.5"/>
<text x="364.37" y="312.0" font-size="11.35" font-weight="bold" text-anchor="middle" >0.0111</text>
<path d="M398.79999999999995 344.0 V338 H413.25 V344.0" fill="none" stroke-width="1.5"/>
<text x="408.02" y="333" font-size="11.35" font-weight="bold" text-anchor="middle" >0.0358</text>
<path d="M485.5 312.8 V306.75 H499.95 V312.8" fill="none" stroke-width="1.5"/>
<text x="490.12" y="302.5" font-size="11.35" font-weight="bold" text-anchor="middle" >0.0004</text>
<path d="M528.8499999999999 380 V374.5 H543.3 V380" fill="none" stroke-width="1.5"/>
<text x="536.07" y="367.5" font-size="11.35" font-weight="bold" text-anchor="middle" >&lt;0.0001</text>
<path d="M543.3 355.75 V350.5 H557.75 V355.75" fill="none" stroke-width="1.5"/>
<text x="549.52" y="345" font-size="11.35" font-weight="bold" text-anchor="middle" >0.0344</text>
<rect x="587.6" y="350.0" width="10.7" height="6.0" fill="#6cbcb5" stroke="#000" stroke-width="1.3"/>
<text x="603.0" y="356.6" font-size="11.45" text-anchor="start" >EU</text>
<rect x="587.6" y="364.15" width="10.7" height="6.0" fill="#1b6e6a" stroke="#000" stroke-width="1.3"/>
<text x="603.0" y="370.75" font-size="11.45" text-anchor="start" >LATAM</text>
<rect x="587.6" y="378.3" width="10.7" height="6.0" fill="#6a62fa" stroke="#000" stroke-width="1.3"/>
<text x="603.0" y="384.90000000000003" font-size="11.45" text-anchor="start" >LATAM w/o Mex</text>
</svg>
</body></html>
